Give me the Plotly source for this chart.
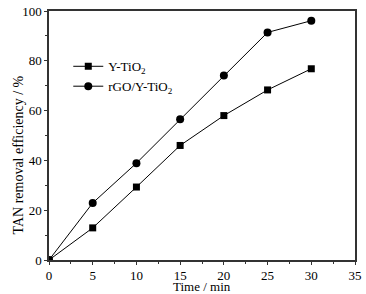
import plotly.graph_objects as go

time = [0, 5, 10, 15, 20, 25, 30]
y_tio2 = [0, 12.9, 29.3, 46.0, 58.0, 68.3, 76.8]
rgo_y_tio2 = [0, 22.9, 38.9, 56.5, 74.1, 91.4, 96.1]

fig = go.Figure()
fig.add_trace(go.Scatter(x=time, y=y_tio2, mode="lines+markers", name="Y-TiO<sub>2</sub>",
                         line=dict(color="black", width=1),
                         marker=dict(symbol="square", size=7, color="black")))
fig.add_trace(go.Scatter(x=time, y=rgo_y_tio2, mode="lines+markers", name="rGO/Y-TiO<sub>2</sub>",
                         line=dict(color="black", width=1),
                         marker=dict(symbol="circle", size=8, color="black")))

font = dict(family="Liberation Serif", size=13, color="black")
tfont = dict(family="Liberation Serif", size=13, color="black")
axis_common = dict(showline=True, linecolor="#333", linewidth=1.5, mirror=True,
                   ticks="outside", ticklen=3, tickcolor="#333", showgrid=False,
                   zeroline=False, tickfont=tfont, automargin=False,
                   ticklabeloverflow="allow")
fig.update_xaxes(range=[0, 35], dtick=5,
                 minor=dict(ticks="outside", ticklen=2, dtick=2.5, tickcolor="#333"), **axis_common)
fig.update_yaxes(range=[0, 100], dtick=20,
                 minor=dict(ticks="outside", ticklen=2, dtick=10, tickcolor="#333"), **axis_common)

fig.add_annotation(text="TAN removal efficiency / %", textangle=-90, showarrow=False,
                   xref="paper", yref="paper", x=-0.101, y=0.42,
                   xanchor="center", yanchor="middle",
                   font=dict(family="Liberation Serif", size=14, color="black"))
fig.add_annotation(text="Time / min", showarrow=False,
                   xref="paper", yref="paper", x=0.5, y=-0.108,
                   xanchor="center", yanchor="middle",
                   font=dict(family="Liberation Serif", size=13, color="black"))

fig.update_layout(width=366, height=294, margin=dict(l=49, r=11, t=11, b=34),
                  paper_bgcolor="white", plot_bgcolor="white", font=font,
                  legend=dict(x=0.063, y=0.838, xanchor="left", yanchor="top",
                              bgcolor="rgba(0,0,0,0)", font=tfont, itemwidth=30,
                              tracegroupgap=0))
fig.write_html("out.html", post_script="document.body.style.margin='0';",
               config={"displayModeBar": False})
